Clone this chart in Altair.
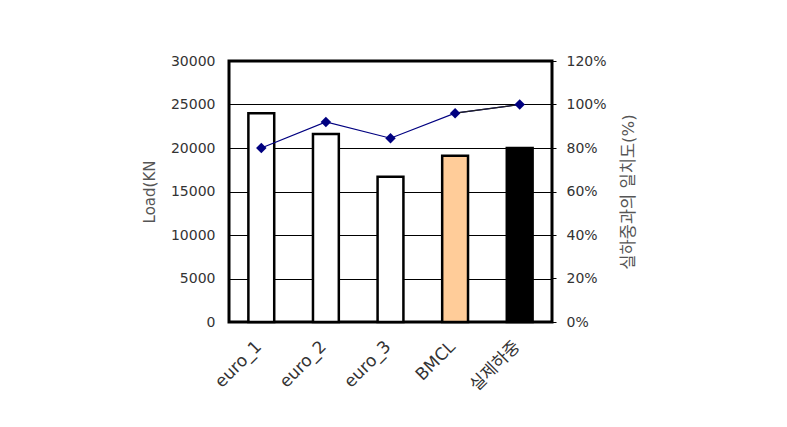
import altair as alt
import pandas as pd

categories = ["euro_1", "euro_2", "euro_3", "BMCL", "실제하중"]
loads = [24000, 21600, 16700, 19100, 20000]
agreement = [0.80, 0.92, 0.845, 0.96, 1.00]
fills = ["#FFFFFF", "#FFFFFF", "#FFFFFF", "#FFCC99", "#000000"]

df = pd.DataFrame({"cat": categories, "load": loads, "pct": agreement, "fill": fills})
seg = pd.DataFrame({"cat": [categories[3]], "cat2": [categories[4]],
                    "pct": [agreement[3]], "pct2": [agreement[4]]})

FONT = "DejaVu Sans, Noto Sans CJK KR"
TXT = "#333333"
RTITLE = "실하중과의 일치도(%)"

x = alt.X("cat:N", sort=categories, title=None,
          scale=alt.Scale(paddingInner=0.6, paddingOuter=0.3),
          axis=alt.Axis(labelAngle=315, labelAlign="right", labelBaseline="top",
                        labelFontSize=17, labelColor=TXT, labelFont=FONT,
                        ticks=False, domain=False, labelPadding=16, labelOffset=-8))

bars = alt.Chart(df).mark_bar(stroke="black", strokeWidth=2.5).encode(
    x=x,
    y=alt.Y("load:Q", title="Load(KN",
            scale=alt.Scale(domain=[0, 30000]),
            axis=alt.Axis(values=[0, 5000, 10000, 15000, 20000, 25000, 30000], format="d",
                          grid=True, gridColor="black", gridWidth=1, gridOpacity=1,
                          ticks=False, domain=False, labelPadding=14,
                          labelFontSize=14, labelColor=TXT, labelFont=FONT,
                          titleFontSize=15, titleFontWeight="normal", titleColor="#555555",
                          titleFont=FONT, titlePadding=13)),
    fill=alt.Fill("fill:N", scale=None),
)

ticks = alt.Chart(df).mark_rule(color="black", strokeWidth=1).encode(
    x=alt.X("cat:N", sort=categories, bandPosition=0),
    y=alt.value(261), y2=alt.value(255),
)

yr = alt.Y("pct:Q", title=RTITLE,
           scale=alt.Scale(domain=[0, 1.2]),
           axis=alt.Axis(orient="right", format="%", values=[0, 0.2, 0.4, 0.6, 0.8, 1.0, 1.2],
                         grid=False, domain=False, tickColor="black", tickSize=4,
                         labelPadding=10, labelFontSize=14, labelColor=TXT, labelFont=FONT,
                         titleFontSize=16.5, titleFontWeight="normal", titleColor="#555555",
                         titleFont=FONT, titlePadding=30, titleAngle=270))

line = alt.Chart(df).mark_line(color="#000080", strokeWidth=1.2).encode(
    x=alt.X("cat:N", sort=categories),
    y=yr,
)

segment = alt.Chart(seg).mark_rule(color="#222222", strokeWidth=1.2).encode(
    x=alt.X("cat:N", sort=categories),
    x2="cat2:N",
    y=yr,
    y2="pct2:Q",
)

points = alt.Chart(df).mark_point(shape="diamond", filled=True, size=110,
                                  color="#000080", opacity=1).encode(
    x=alt.X("cat:N", sort=categories),
    y=yr,
)

left = alt.layer(bars, ticks)
right = alt.layer(line, segment, points)

chart = alt.layer(left, right).resolve_scale(y="independent").properties(
    width=323, height=261,
    autosize=alt.AutoSizeParams(type="none"),
    padding={"left": 229, "top": 61, "right": 235, "bottom": 105},
    background="white",
).configure_view(stroke="black", strokeWidth=3)

chart.save("out.html", embed_options={"renderer": "svg", "actions": False})
